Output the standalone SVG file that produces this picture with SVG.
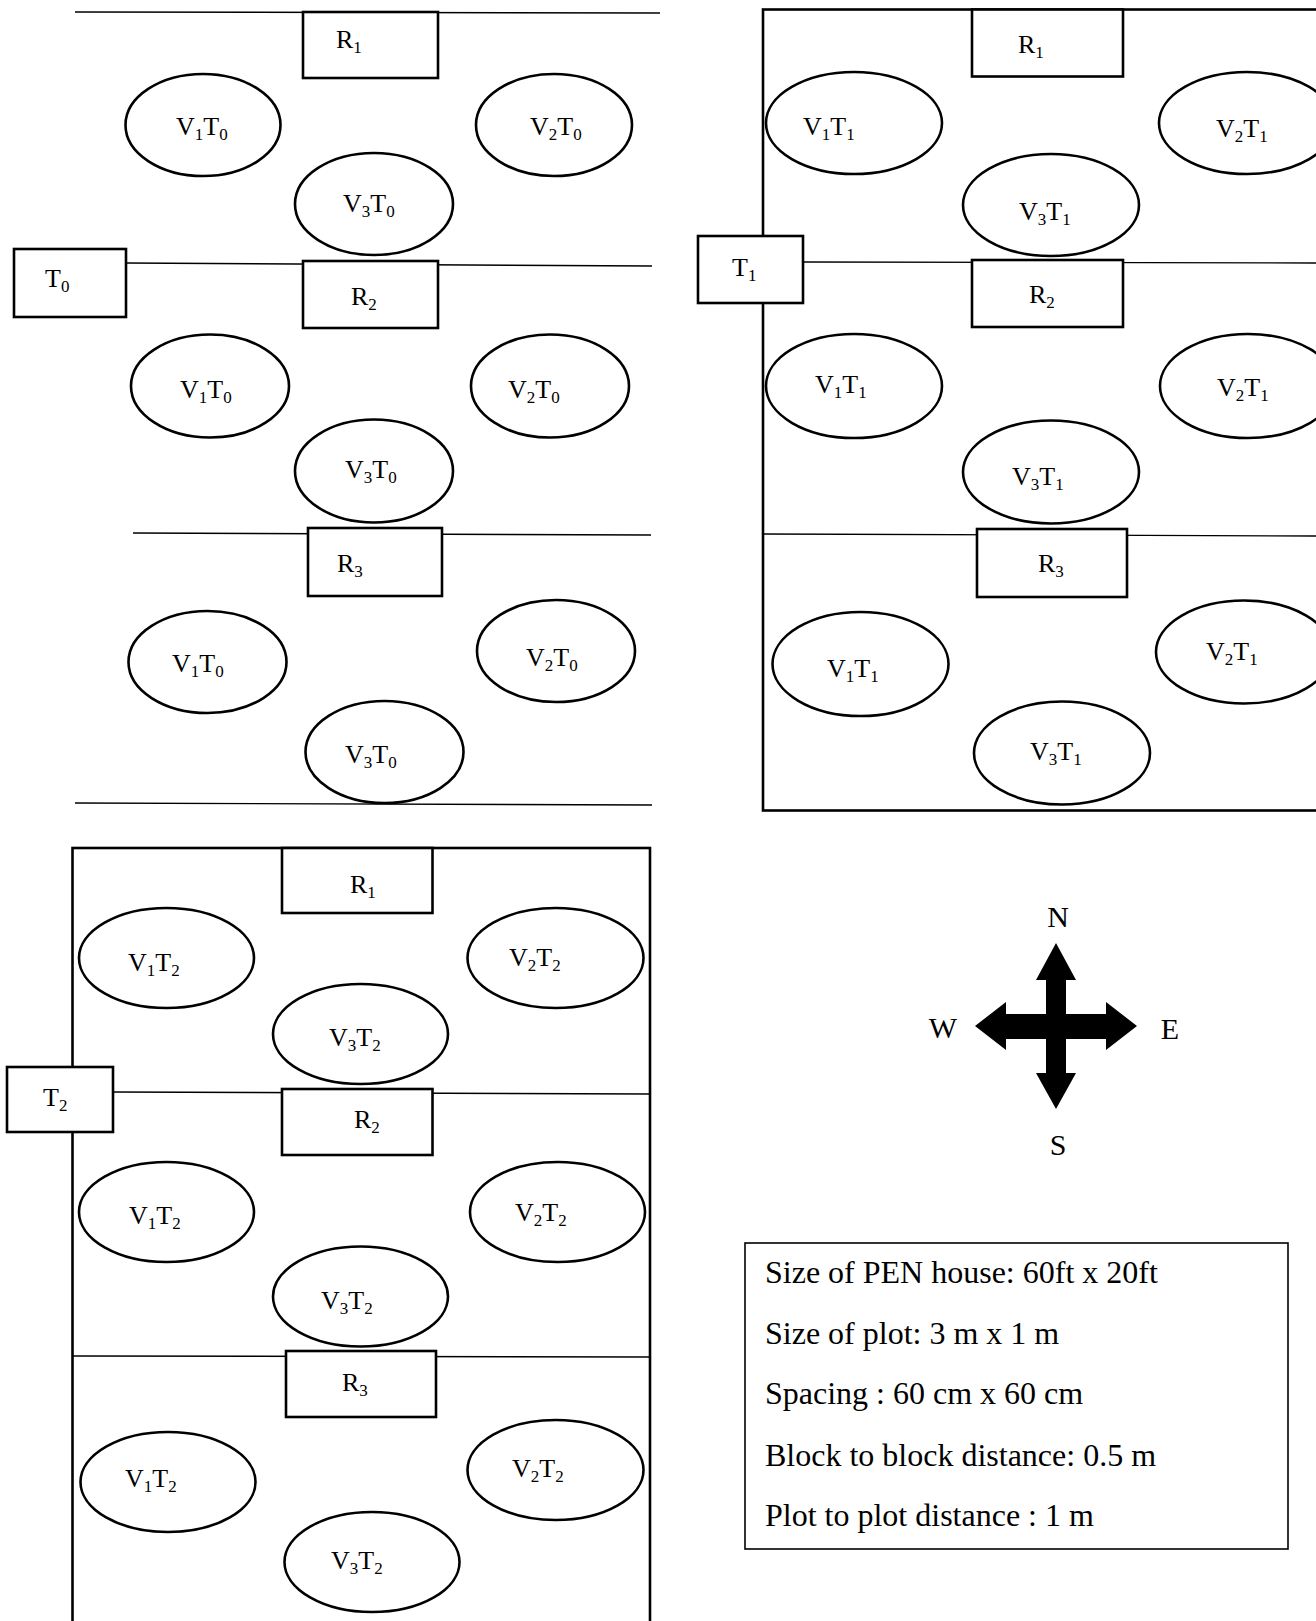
<svg xmlns="http://www.w3.org/2000/svg" width="1316" height="1621" viewBox="0 0 1316 1621">
<style>
.bg{fill:#fff}
.ln{stroke:#000;stroke-width:1.4;fill:none}
.fr{stroke:#000;stroke-width:2.6;fill:none}
.bx{stroke:#000;stroke-width:2.6;fill:#fff}
.el{stroke:#000;stroke-width:2.6;fill:#fff}
text{font-family:"Liberation Serif","Times New Roman",serif;fill:#000}
.lb{font-size:26px}
.sb{font-size:17px}
.cp{font-size:30px}
.lg{font-size:32px}
</style>
<rect class="bg" x="0" y="0" width="1316" height="1621"/>

<!-- frames -->
<g id="frame-T1"><rect class="fr" x="763" y="9.5" width="570" height="801"/></g>
<g id="frame-T2"><rect class="fr" x="72.5" y="848" width="577.5" height="790"/></g>

<g id="connectors">
  <!-- T0 panel -->
  <line class="ln" x1="75" y1="12" x2="660" y2="13"/>
  <line class="ln" x1="126" y1="263" x2="652" y2="266"/>
  <line class="ln" x1="133" y1="533" x2="651" y2="535"/>
  <line class="ln" x1="75" y1="803" x2="652" y2="805"/>
  <!-- T1 panel -->
  <line class="ln" x1="803" y1="262" x2="1316" y2="263"/>
  <line class="ln" x1="763" y1="534" x2="1316" y2="536"/>
  <!-- T2 panel -->
  <line class="ln" x1="113" y1="1092" x2="650" y2="1094"/>
  <line class="ln" x1="72.5" y1="1356" x2="650" y2="1357"/>
</g>

<!-- ===== T0 panel ===== -->
<g id="t0-r1"><rect class="bx" x="303" y="12" width="135" height="66"/><text class="lb" x="336" y="48">R<tspan class="sb" dy="5">1</tspan></text></g>
<g id="t0-v1-a"><ellipse class="el" cx="203" cy="125" rx="77.5" ry="51"/><text class="lb" x="176" y="135">V<tspan class="sb" dy="5">1</tspan><tspan dy="-5">T</tspan><tspan class="sb" dy="5">0</tspan></text></g>
<g id="t0-v2-a"><ellipse class="el" cx="554" cy="125" rx="78" ry="51"/><text class="lb" x="530" y="135">V<tspan class="sb" dy="5">2</tspan><tspan dy="-5">T</tspan><tspan class="sb" dy="5">0</tspan></text></g>
<g id="t0-v3-a"><ellipse class="el" cx="374" cy="204" rx="79" ry="51"/><text class="lb" x="343" y="212">V<tspan class="sb" dy="5">3</tspan><tspan dy="-5">T</tspan><tspan class="sb" dy="5">0</tspan></text></g>
<g id="t0-label"><rect class="bx" x="14" y="249" width="112" height="68"/><text class="lb" x="45" y="287">T<tspan class="sb" dy="5">0</tspan></text></g>
<g id="t0-r2"><rect class="bx" x="303" y="261" width="135" height="67"/><text class="lb" x="351" y="305">R<tspan class="sb" dy="5">2</tspan></text></g>
<g id="t0-v1-b"><ellipse class="el" cx="210" cy="386" rx="79" ry="51.5"/><text class="lb" x="180" y="398">V<tspan class="sb" dy="5">1</tspan><tspan dy="-5">T</tspan><tspan class="sb" dy="5">0</tspan></text></g>
<g id="t0-v2-b"><ellipse class="el" cx="550" cy="386" rx="79" ry="51.5"/><text class="lb" x="508" y="398">V<tspan class="sb" dy="5">2</tspan><tspan dy="-5">T</tspan><tspan class="sb" dy="5">0</tspan></text></g>
<g id="t0-v3-b"><ellipse class="el" cx="374" cy="471" rx="79" ry="51.5"/><text class="lb" x="345" y="478">V<tspan class="sb" dy="5">3</tspan><tspan dy="-5">T</tspan><tspan class="sb" dy="5">0</tspan></text></g>
<g id="t0-r3"><rect class="bx" x="308" y="528" width="134" height="68"/><text class="lb" x="337" y="572">R<tspan class="sb" dy="5">3</tspan></text></g>
<g id="t0-v1-c"><ellipse class="el" cx="207.5" cy="662" rx="79" ry="51"/><text class="lb" x="172" y="672">V<tspan class="sb" dy="5">1</tspan><tspan dy="-5">T</tspan><tspan class="sb" dy="5">0</tspan></text></g>
<g id="t0-v2-c"><ellipse class="el" cx="556" cy="651" rx="79" ry="51"/><text class="lb" x="526" y="666">V<tspan class="sb" dy="5">2</tspan><tspan dy="-5">T</tspan><tspan class="sb" dy="5">0</tspan></text></g>
<g id="t0-v3-c"><ellipse class="el" cx="384.5" cy="752" rx="79" ry="51"/><text class="lb" x="345" y="763">V<tspan class="sb" dy="5">3</tspan><tspan dy="-5">T</tspan><tspan class="sb" dy="5">0</tspan></text></g>

<!-- ===== T1 panel ===== -->
<g id="t1-r1"><rect class="bx" x="972" y="9.5" width="151" height="67"/><text class="lb" x="1018" y="53">R<tspan class="sb" dy="5">1</tspan></text></g>
<g id="t1-v1-a"><ellipse class="el" cx="854" cy="123" rx="88" ry="51"/><text class="lb" x="803" y="135">V<tspan class="sb" dy="5">1</tspan><tspan dy="-5">T</tspan><tspan class="sb" dy="5">1</tspan></text></g>
<g id="t1-v2-a"><ellipse class="el" cx="1247" cy="123" rx="88" ry="51"/><text class="lb" x="1216" y="137">V<tspan class="sb" dy="5">2</tspan><tspan dy="-5">T</tspan><tspan class="sb" dy="5">1</tspan></text></g>
<g id="t1-v3-a"><ellipse class="el" cx="1051" cy="205" rx="88" ry="51"/><text class="lb" x="1019" y="220">V<tspan class="sb" dy="5">3</tspan><tspan dy="-5">T</tspan><tspan class="sb" dy="5">1</tspan></text></g>
<g id="t1-label"><rect class="bx" x="698" y="236" width="105" height="67"/><text class="lb" x="732" y="276">T<tspan class="sb" dy="5">1</tspan></text></g>
<g id="t1-r2"><rect class="bx" x="972" y="260" width="151" height="67"/><text class="lb" x="1029" y="303">R<tspan class="sb" dy="5">2</tspan></text></g>
<g id="t1-v1-b"><ellipse class="el" cx="854" cy="386" rx="88" ry="52"/><text class="lb" x="815" y="393">V<tspan class="sb" dy="5">1</tspan><tspan dy="-5">T</tspan><tspan class="sb" dy="5">1</tspan></text></g>
<g id="t1-v2-b"><ellipse class="el" cx="1248" cy="386" rx="88" ry="52"/><text class="lb" x="1217" y="396">V<tspan class="sb" dy="5">2</tspan><tspan dy="-5">T</tspan><tspan class="sb" dy="5">1</tspan></text></g>
<g id="t1-v3-b"><ellipse class="el" cx="1051" cy="472" rx="88" ry="51.5"/><text class="lb" x="1012" y="485">V<tspan class="sb" dy="5">3</tspan><tspan dy="-5">T</tspan><tspan class="sb" dy="5">1</tspan></text></g>
<g id="t1-r3"><rect class="bx" x="977" y="529" width="150" height="68"/><text class="lb" x="1038" y="572">R<tspan class="sb" dy="5">3</tspan></text></g>
<g id="t1-v1-c"><ellipse class="el" cx="860.5" cy="664" rx="88" ry="52"/><text class="lb" x="827" y="677">V<tspan class="sb" dy="5">1</tspan><tspan dy="-5">T</tspan><tspan class="sb" dy="5">1</tspan></text></g>
<g id="t1-v2-c"><ellipse class="el" cx="1244" cy="652" rx="88" ry="51.5"/><text class="lb" x="1206" y="660">V<tspan class="sb" dy="5">2</tspan><tspan dy="-5">T</tspan><tspan class="sb" dy="5">1</tspan></text></g>
<g id="t1-v3-c"><ellipse class="el" cx="1062" cy="753" rx="88" ry="51.5"/><text class="lb" x="1030" y="760">V<tspan class="sb" dy="5">3</tspan><tspan dy="-5">T</tspan><tspan class="sb" dy="5">1</tspan></text></g>

<!-- ===== T2 panel ===== -->
<g id="t2-r1"><rect class="bx" x="282" y="848" width="150.5" height="65"/><text class="lb" x="350" y="893">R<tspan class="sb" dy="5">1</tspan></text></g>
<g id="t2-v1-a"><ellipse class="el" cx="166.5" cy="958" rx="87.5" ry="50"/><text class="lb" x="128" y="971">V<tspan class="sb" dy="5">1</tspan><tspan dy="-5">T</tspan><tspan class="sb" dy="5">2</tspan></text></g>
<g id="t2-v2-a"><ellipse class="el" cx="555.5" cy="958" rx="88" ry="50"/><text class="lb" x="509" y="966">V<tspan class="sb" dy="5">2</tspan><tspan dy="-5">T</tspan><tspan class="sb" dy="5">2</tspan></text></g>
<g id="t2-v3-a"><ellipse class="el" cx="360.5" cy="1034" rx="87.5" ry="50"/><text class="lb" x="329" y="1046">V<tspan class="sb" dy="5">3</tspan><tspan dy="-5">T</tspan><tspan class="sb" dy="5">2</tspan></text></g>
<g id="t2-label"><rect class="bx" x="7" y="1067" width="106" height="65"/><text class="lb" x="43" y="1106">T<tspan class="sb" dy="5">2</tspan></text></g>
<g id="t2-r2"><rect class="bx" x="282" y="1089" width="150.5" height="66"/><text class="lb" x="354" y="1128">R<tspan class="sb" dy="5">2</tspan></text></g>
<g id="t2-v1-b"><ellipse class="el" cx="166.5" cy="1212" rx="87.5" ry="50"/><text class="lb" x="129" y="1224">V<tspan class="sb" dy="5">1</tspan><tspan dy="-5">T</tspan><tspan class="sb" dy="5">2</tspan></text></g>
<g id="t2-v2-b"><ellipse class="el" cx="557.5" cy="1212" rx="87.5" ry="50"/><text class="lb" x="515" y="1221">V<tspan class="sb" dy="5">2</tspan><tspan dy="-5">T</tspan><tspan class="sb" dy="5">2</tspan></text></g>
<g id="t2-v3-b"><ellipse class="el" cx="360.5" cy="1296.5" rx="87.5" ry="50"/><text class="lb" x="321" y="1309">V<tspan class="sb" dy="5">3</tspan><tspan dy="-5">T</tspan><tspan class="sb" dy="5">2</tspan></text></g>
<g id="t2-r3"><rect class="bx" x="286" y="1351" width="150" height="66"/><text class="lb" x="342" y="1391">R<tspan class="sb" dy="5">3</tspan></text></g>
<g id="t2-v1-c"><ellipse class="el" cx="168" cy="1482" rx="87.5" ry="50"/><text class="lb" x="125" y="1487">V<tspan class="sb" dy="5">1</tspan><tspan dy="-5">T</tspan><tspan class="sb" dy="5">2</tspan></text></g>
<g id="t2-v2-c"><ellipse class="el" cx="555.5" cy="1470" rx="88" ry="50"/><text class="lb" x="512" y="1477">V<tspan class="sb" dy="5">2</tspan><tspan dy="-5">T</tspan><tspan class="sb" dy="5">2</tspan></text></g>
<g id="t2-v3-c"><ellipse class="el" cx="372" cy="1562" rx="87.5" ry="50"/><text class="lb" x="331" y="1569">V<tspan class="sb" dy="5">3</tspan><tspan dy="-5">T</tspan><tspan class="sb" dy="5">2</tspan></text></g>

<!-- ===== compass ===== -->
<g id="compass">
  <polygon fill="#000" points="1056,943 1076,980 1066,980 1066,1014 1106,1014 1106,1002 1137,1026 1106,1050 1106,1039 1066,1039 1066,1073 1076,1073 1056,1109 1036,1073 1046,1073 1046,1039 1006,1039 1006,1050 975,1026 1006,1002 1006,1014 1046,1014 1046,980 1036,980"/>
  <text class="cp" x="1058" y="927" text-anchor="middle">N</text>
  <text class="cp" x="1058" y="1155" text-anchor="middle">S</text>
  <text class="cp" x="943" y="1038" text-anchor="middle">W</text>
  <text class="cp" x="1170" y="1039" text-anchor="middle">E</text>
</g>

<!-- ===== legend ===== -->
<g id="legend">
  <rect x="745" y="1243" width="543" height="306" fill="#fff" stroke="#000" stroke-width="1.6"/>
  <text class="lg" x="765" y="1283">Size of PEN house: 60ft x 20ft</text>
  <text class="lg" x="765" y="1344">Size of plot: 3 m x 1 m</text>
  <text class="lg" x="765" y="1404">Spacing : 60 cm x 60 cm</text>
  <text class="lg" x="765" y="1466">Block to block distance: 0.5 m</text>
  <text class="lg" x="765" y="1526">Plot to plot distance : 1 m</text>
</g>
</svg>
